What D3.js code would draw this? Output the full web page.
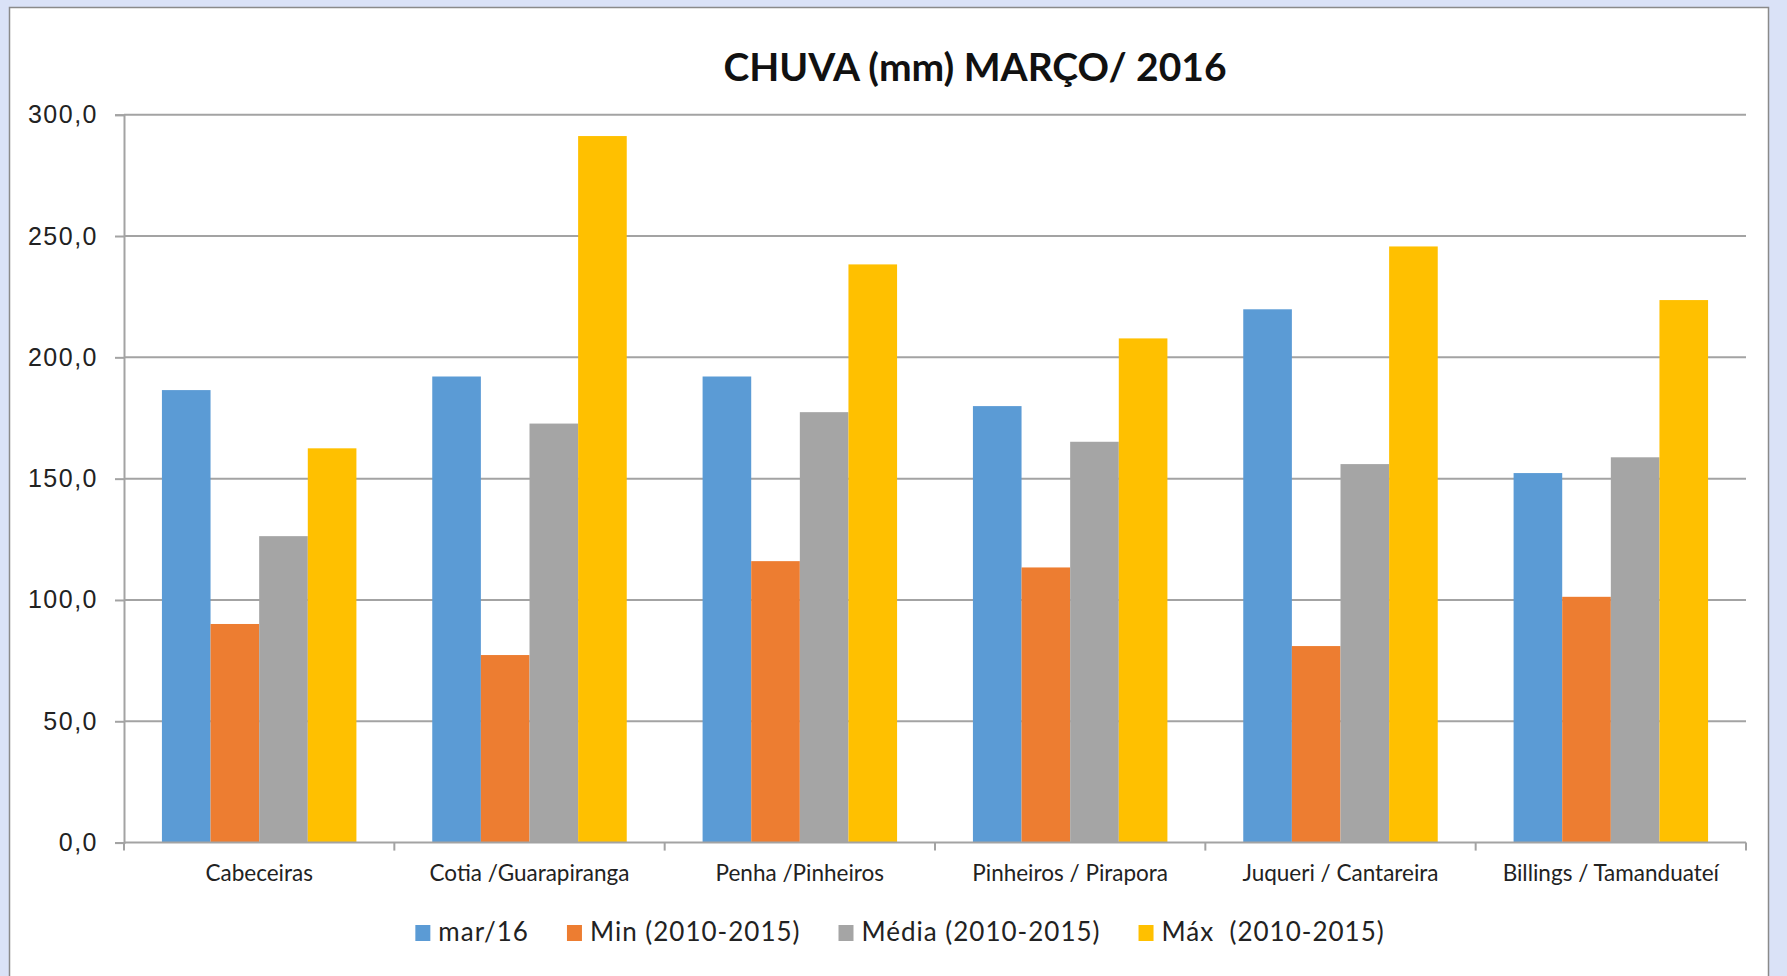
<!DOCTYPE html>
<html>
<head>
<meta charset="utf-8">
<script src="https://cdn.jsdelivr.net/npm/d3@7"></script>
<style>
  body { margin: 0; background: #dae2f7; }
  svg { display: block; font-family: Lato, "Open Sans", sans-serif; }
</style>
</head>
<body>
<script>
// dados do gráfico
const categorias = ["Cabeceiras", "Cotia /Guarapiranga", "Penha /Pinheiros", "Pinheiros / Pirapora", "Juqueri / Cantareira", "Billings / Tamanduateí"];
const series = ["mar/16", "Min (2010-2015)", "Média (2010-2015)", "Máx  (2010-2015)"];
const mar16 = [186.5, 192.1, 192.1, 179.9, 219.8, 152.3];
const minimo = [90.1, 77.3, 116.0, 113.4, 81.0, 101.3];
const media = [126.3, 172.7, 177.4, 165.2, 156.0, 158.8];
const maximo = [162.5, 291.2, 238.3, 207.8, 245.7, 223.6];
const yTicks = [0, 50, 100, 150, 200, 250, 300];
const cores = ["#5b9bd5", "#ed7d31", "#a5a5a5", "#ffc000"];

const width = 1787;
const height = 976;
const valores = [mar16, minimo, media, maximo];

const svg = d3.select("body").append("svg")
  .attr("width", width).attr("height", height);

// fundo + painel branco
svg.append("rect").attr("width", width).attr("height", height).attr("fill", "#dae2f7");
svg.append("rect").attr("x", 9.5).attr("y", 7.5).attr("width", 1759).attr("height", 990)
  .attr("fill", "#fff").attr("stroke", "#8a8a8a").attr("stroke-width", 1.5);

const plot = { left: 124, right: 1746, top: 114.7, bottom: 842.6 };

const x0 = d3.scaleBand().domain(categorias).range([plot.left, plot.right]);
const x1 = d3.scaleBand().domain(series).range([0, x0.bandwidth()]).paddingOuter(0.78);
const y = d3.scaleLinear().domain([0, 300]).range([plot.bottom, plot.top]);

const br = d3.formatLocale({ decimal: ",", thousands: ".", grouping: [3], currency: ["R$", ""] });
const fmt = br.format(".1f");

// linhas de grade
svg.append("g")
  .selectAll("line").data(yTicks.slice(1)).enter().append("line")
  .attr("x1", plot.left).attr("x2", plot.right)
  .attr("y1", d => y(d)).attr("y2", d => y(d))
  .attr("stroke", "#a3a3a3").attr("stroke-width", 2);

// eixo y
const yAxis = svg.append("g").attr("transform", `translate(${plot.left},0)`)
  .call(d3.axisLeft(y).tickValues(yTicks).tickFormat(fmt).tickSize(9).tickPadding(17));
yAxis.select(".domain").attr("stroke", "#a3a3a3").attr("stroke-width", 2);
yAxis.selectAll(".tick line").attr("stroke", "#a3a3a3").attr("stroke-width", 2);
yAxis.selectAll("text").attr("font-size", 25).attr("letter-spacing", 1.5).attr("fill", "#222");

// barras
const grupos = svg.append("g").selectAll("g").data(categorias).enter().append("g")
  .attr("transform", d => `translate(${x0(d)},0)`);

grupos.selectAll("rect")
  .data((c, i) => series.map((s, k) => ({ serie: s, valor: valores[k][i], cor: cores[k] })))
  .enter().append("rect")
  .attr("x", d => x1(d.serie))
  .attr("width", x1.bandwidth())
  .attr("y", d => y(d.valor))
  .attr("height", d => y(0) - y(d.valor))
  .attr("fill", d => d.cor);

// eixo x
const xg = svg.append("g");
xg.append("line").attr("x1", plot.left).attr("x2", plot.right)
  .attr("y1", y(0)).attr("y2", y(0))
  .attr("stroke", "#a3a3a3").attr("stroke-width", 2);
xg.selectAll(".tk").data(categorias.map(c => x0(c)).concat([x0.range()[1]]))
  .enter().append("line").classed("tk", true)
  .attr("x1", d => d).attr("x2", d => d)
  .attr("y1", y(0)).attr("y2", y(0) + 8)
  .attr("stroke", "#a3a3a3").attr("stroke-width", 2);
xg.selectAll("text").data(categorias).enter().append("text")
  .attr("x", d => x0(d) + x0.bandwidth() / 2)
  .attr("y", 881)
  .attr("text-anchor", "middle")
  .attr("font-size", 22.5)
  .attr("fill", "#222")
  .text(d => d);

// título
svg.append("text")
  .attr("x", 975).attr("y", 81)
  .attr("text-anchor", "middle")
  .attr("font-size", 39).attr("font-weight", "bold")
  .attr("fill", "#111")
  .text("CHUVA (mm) MARÇO/ 2016");

// legenda
const gap = 38;
const leg = svg.append("g");
const itens = leg.selectAll("g").data(series).enter().append("g");
itens.append("rect").attr("width", 15).attr("height", 16).attr("y", -16)
  .attr("fill", (d, i) => cores[i]);
itens.append("text").attr("x", 23).attr("y", 0)
  .attr("font-size", 26).attr("letter-spacing", 1).attr("fill", "#222")
  .style("white-space", "pre")
  .attr("xml:space", "preserve")
  .text(d => d);

let pos = 0;
const larguras = [];
itens.each(function () {
  const w = this.getBBox().width;
  larguras.push(pos);
  pos += w + gap;
});
const total = pos - gap;
itens.attr("transform", (d, i) => `translate(${900 - total / 2 + larguras[i]},941)`);
</script>
</body>
</html>
